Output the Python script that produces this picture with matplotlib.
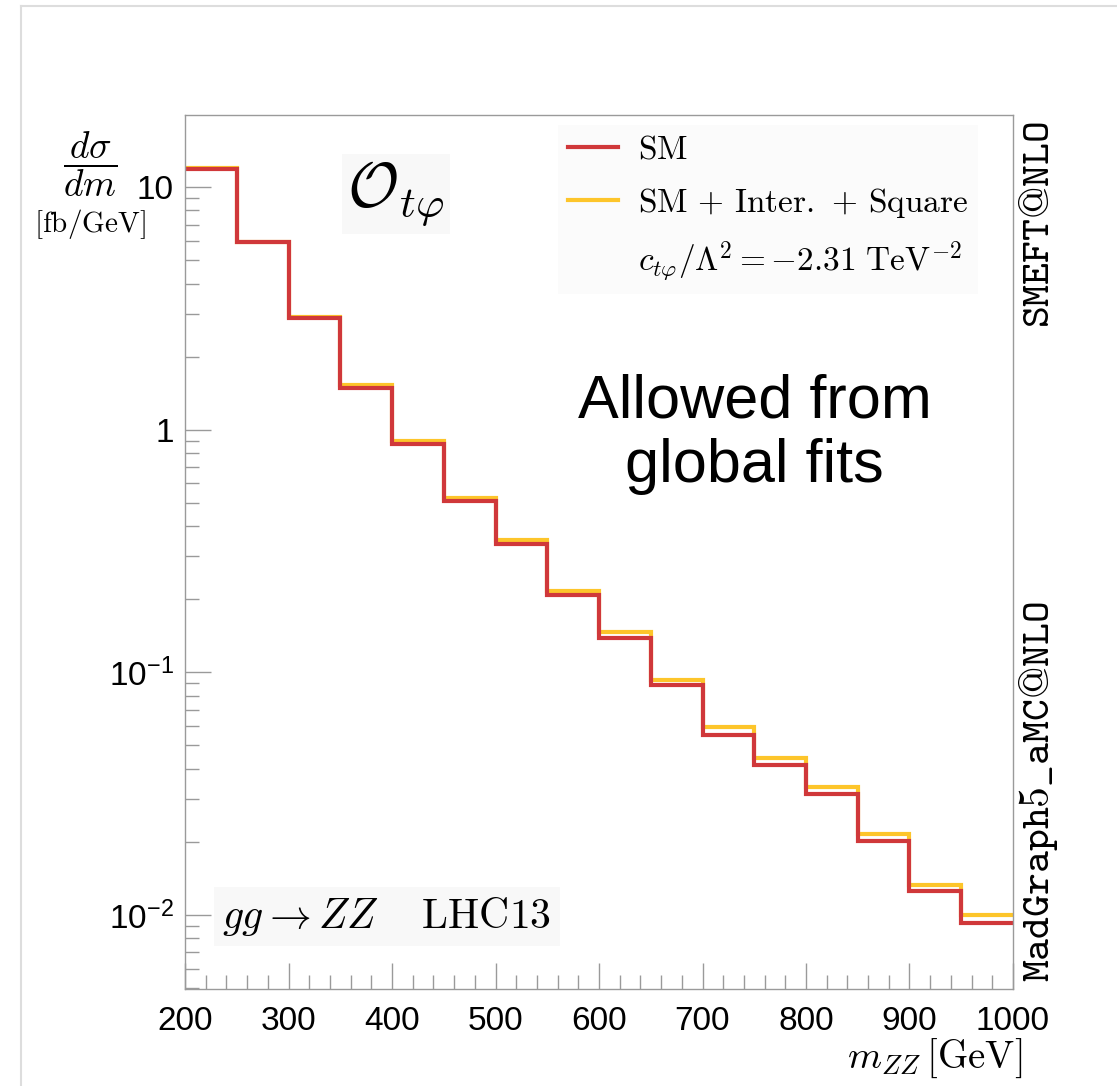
import matplotlib
matplotlib.use("Agg")
import matplotlib.pyplot as plt
from matplotlib.ticker import MultipleLocator, LogLocator, FixedLocator, NullFormatter
from matplotlib.lines import Line2D
import numpy as np

# m_ZZ bin edges [GeV]
bin_edges = [200, 250, 300, 350, 400, 450, 500, 550, 600, 650, 700,
             750, 800, 850, 900, 950, 1000]

# dsigma/dm [fb/GeV]
sm_vals = [11.9, 5.91, 2.89, 1.49, 0.876, 0.508, 0.338, 0.208, 0.139,
           0.0884, 0.0552, 0.0414, 0.0316, 0.0201, 0.0126, 0.00922]
sm_eft_vals = [11.95, 5.95, 2.92, 1.53, 0.895, 0.523, 0.352, 0.217, 0.1467,
               0.0933, 0.0593, 0.0444, 0.0336, 0.0215, 0.01326, 0.00999]

ytick_vals = [0.01, 0.1, 1, 10]
ytick_labels = [r'$10^{-2}$', r'$10^{-1}$', '1', '10']
xtick_vals = [200, 300, 400, 500, 600, 700, 800, 900, 1000]

plt.rcParams['font.family'] = ['Liberation Sans', 'DejaVu Sans']
plt.rcParams['mathtext.fontset'] = 'custom'
plt.rcParams['mathtext.rm'] = 'Liberation Sans'
plt.rcParams['mathtext.it'] = 'Liberation Sans:italic'
plt.rcParams['mathtext.bf'] = 'Liberation Sans:bold'

RED = '#d0383a'
YELLOW = '#fdc52a'
GRAY = '#9a9a9a'

W, H = 1117, 1086
fig = plt.figure(figsize=(W / 100, H / 100), dpi=100)
ax = fig.add_axes([185 / W, 1 - 989 / H, (1013 - 185) / W, (989 - 115) / H])

# faint page border (left and top only)
fig.add_artist(Line2D([21 / W, 21 / W], [0, 1 - 6 / H], color='#dddddd', lw=1.5,
                      transform=fig.transFigure))
fig.add_artist(Line2D([21 / W, 1], [1 - 6 / H, 1 - 6 / H], color='#dddddd', lw=1.5,
                      transform=fig.transFigure))

ax.stairs(sm_eft_vals, bin_edges, baseline=None, color=YELLOW, lw=3.0)
ax.stairs(sm_vals, bin_edges, baseline=None, color=RED, lw=3.0)

ax.set_yscale('log')
ax.set_xlim(200, 1000)
ax.set_ylim(0.00495, 19.8)

ax.xaxis.set_major_locator(FixedLocator(xtick_vals))
ax.xaxis.set_minor_locator(MultipleLocator(20))
ax.yaxis.set_major_locator(FixedLocator(ytick_vals))
ax.set_yticklabels(ytick_labels)
ax.yaxis.set_minor_locator(LogLocator(base=10, subs=np.arange(2, 10)))
ax.yaxis.set_minor_formatter(NullFormatter())

ax.tick_params(which='both', direction='in', color=GRAY, width=1,
               top=False, right=False, labelsize=24)
ax.tick_params(which='major', length=19)
ax.tick_params(which='minor', length=10)
ax.tick_params(axis='x', pad=12)
ax.tick_params(axis='y', pad=8)
for sp in ax.spines.values():
    sp.set_color(GRAY)
    sp.set_linewidth(1)

# axis titles (LaTeX look)
t = fig.text(90 / W, 1 - 164 / H, r'$\dfrac{d\sigma}{dm}$', ha='center', va='center',
             fontsize=27)
t.set_math_fontfamily('cm')
t = fig.text(90 / W, 1 - 224 / H, r'$\mathrm{[fb/GeV]}$', ha='center', va='center',
             fontsize=21)
t.set_math_fontfamily('cm')
t = fig.text(1022 / W, 1 - 1058 / H, r'$m_{ZZ}\,\mathrm{[GeV]}$', ha='right',
             va='center', fontsize=28)
t.set_math_fontfamily('cm')

# operator label
t = ax.text(0.255, 0.91, r'$\mathcal{O}_{t\varphi}$', transform=ax.transAxes,
            ha='center', va='center', fontsize=45,
            bbox=dict(facecolor='#f8f8f8', edgecolor='none', pad=4))
t.set_math_fontfamily('cm')

# process label
t = ax.text(0.045, 0.083, r'$gg \rightarrow ZZ\quad\; \mathrm{LHC13}$',
            transform=ax.transAxes, ha='left', va='center', fontsize=30,
            bbox=dict(facecolor='#f8f8f8', edgecolor='none', pad=6))
t.set_math_fontfamily('cm')

# legend
handles = [Line2D([], [], color=RED, lw=3.0),
           Line2D([], [], color=YELLOW, lw=3.0),
           Line2D([], [], color='none')]
labels = [r'$\mathrm{SM}$',
          r'$\mathrm{SM}\,+\,\mathrm{Inter.}\,+\,\mathrm{Square}$',
          r'$c_{t\varphi}/\Lambda^2 = -2.31\ \mathrm{TeV}^{-2}$']
leg = ax.legend(handles, labels, loc='upper left', bbox_to_anchor=(0.43, 1.008),
                fontsize=24, frameon=True, fancybox=False, handlelength=1.5,
                handletextpad=0.6, labelspacing=0.6, borderpad=0.3)
leg.get_frame().set_facecolor('#fafafa')
leg.get_frame().set_edgecolor('none')
for txt in leg.get_texts():
    txt.set_math_fontfamily('cm')

ax.text(0.688, 0.635, 'Allowed from\nglobal fits', transform=ax.transAxes,
        ha='center', va='center', fontsize=44, linespacing=1.18)

# generator tags on the right
t = fig.text(1038 / W, 1 - 225 / H, r'$\mathtt{SMEFT@NLO}$', rotation=90,
             ha='center', va='center', fontsize=30)
t.set_math_fontfamily('cm')
t = fig.text(1038 / W, 1 - 792 / H, r'$\mathtt{MadGraph5\_aMC@NLO}$', rotation=90,
             ha='center', va='center', fontsize=30)
t.set_math_fontfamily('cm')

fig.savefig('out.png', dpi=100)
